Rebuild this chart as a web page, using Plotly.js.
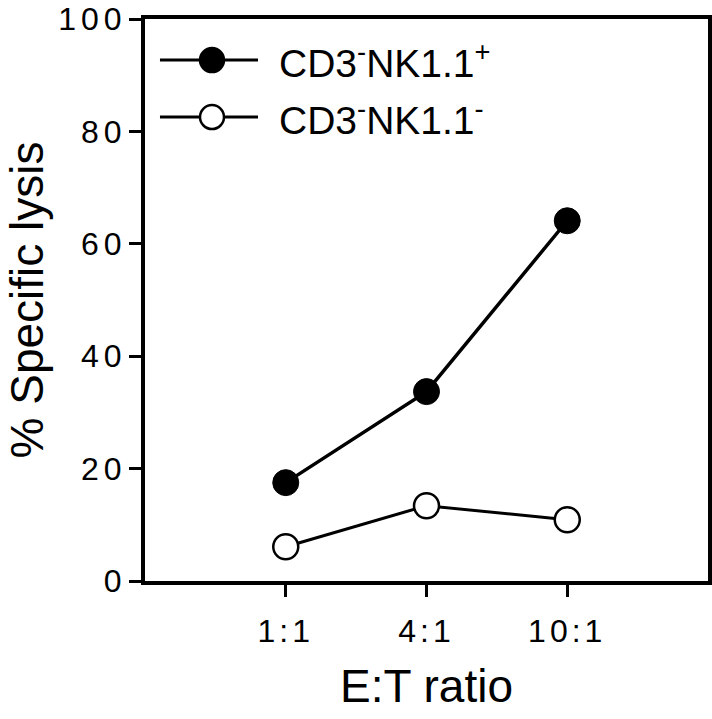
<!DOCTYPE html>
<html>
<head>
<meta charset="utf-8">
<script src="https://cdn.plot.ly/plotly-3.0.1.min.js"></script>
<style>
html, body { margin: 0; padding: 0; background: #fff; }
#chart { width: 712px; height: 719px; }
.ytick text { letter-spacing: 5px; }
.xtick text { letter-spacing: 4px; }
</style>
</head>
<body>
<div id="chart"></div>
<script>
const categories = ['1:1', '4:1', '10:1'];
const nkPos = [17.5, 33.7, 64.1];
const nkNeg = [6.1, 13.4, 10.9];
const seriesNames = ['CD3<sup>-</sup>NK1.1<sup>+</sup>', 'CD3<sup>-</sup>NK1.1<sup>-</sup>'];
const yTicks = [0, 20, 40, 60, 80, 100];

const FONT = 'Liberation Sans, Arial, Helvetica, sans-serif';

const traces = [
  {
    x: categories, y: nkPos, name: seriesNames[0], type: 'scatter', mode: 'lines+markers',
    line: {color: '#000', width: 3.5},
    marker: {color: '#000', size: 26, symbol: 'circle', line: {color: '#000', width: 1}},
    showlegend: false, cliponaxis: false
  },
  {
    x: categories, y: nkNeg, name: seriesNames[1], type: 'scatter', mode: 'lines+markers',
    line: {color: '#000', width: 3},
    marker: {color: '#fff', size: 25, symbol: 'circle', line: {color: '#000', width: 2.5}},
    showlegend: false, cliponaxis: false
  }
];

// legend drawn as decorations in paper coordinates
const legRows = [0.927, 0.8256];
const shapes = [];
const annotations = [];
legRows.forEach((yy, i) => {
  shapes.push({type: 'line', xref: 'paper', yref: 'paper', x0: 0.0266, x1: 0.2007, y0: yy, y1: yy,
    line: {color: '#000', width: 3}});
  shapes.push({type: 'circle', xref: 'paper', yref: 'paper', xsizemode: 'pixel', ysizemode: 'pixel',
    xanchor: 0.119, yanchor: yy, x0: -12, x1: 12, y0: -12, y1: 12,
    fillcolor: i === 0 ? '#000' : '#fff', line: {color: '#000', width: 2.5}});
  annotations.push({xref: 'paper', yref: 'paper', x: 0.234, y: yy, xanchor: 'left', yanchor: 'middle',
    text: seriesNames[i], showarrow: false, font: {family: FONT, size: 39, color: '#000'}});
});

const layout = {
  width: 712, height: 719,
  margin: {l: 145, r: 4, t: 19, b: 138},
  paper_bgcolor: '#fff', plot_bgcolor: '#fff',
  font: {family: FONT, color: '#000'},
  showlegend: false,
  xaxis: {
    type: 'category', range: [-1, 3],
    showline: true, linecolor: '#000', linewidth: 4, mirror: true,
    ticks: 'outside', ticklen: 12, tickwidth: 3, tickcolor: '#000',
    showgrid: false, zeroline: false,
    tickfont: {family: FONT, size: 32, color: '#000'},
    ticklabelstandoff: 7,
    title: {text: 'E:T ratio', font: {family: FONT, size: 46, color: '#000'}, standoff: 22}
  },
  yaxis: {
    range: [0, 100], tickvals: yTicks,
    showline: true, linecolor: '#000', linewidth: 4, mirror: true,
    ticks: 'outside', ticklen: 12, tickwidth: 3, tickcolor: '#000',
    showgrid: false, zeroline: false,
    tickfont: {family: FONT, size: 32, color: '#000'},
    ticklabelstandoff: -4,
    ticklabeloverflow: 'allow',
    title: {text: '% Specific lysis', font: {family: FONT, size: 46, color: '#000'}, standoff: 1}
  },
  shapes: shapes,
  annotations: annotations
};

Plotly.newPlot('chart', traces, layout, {displayModeBar: false, staticPlot: true});
</script>
</body>
</html>
